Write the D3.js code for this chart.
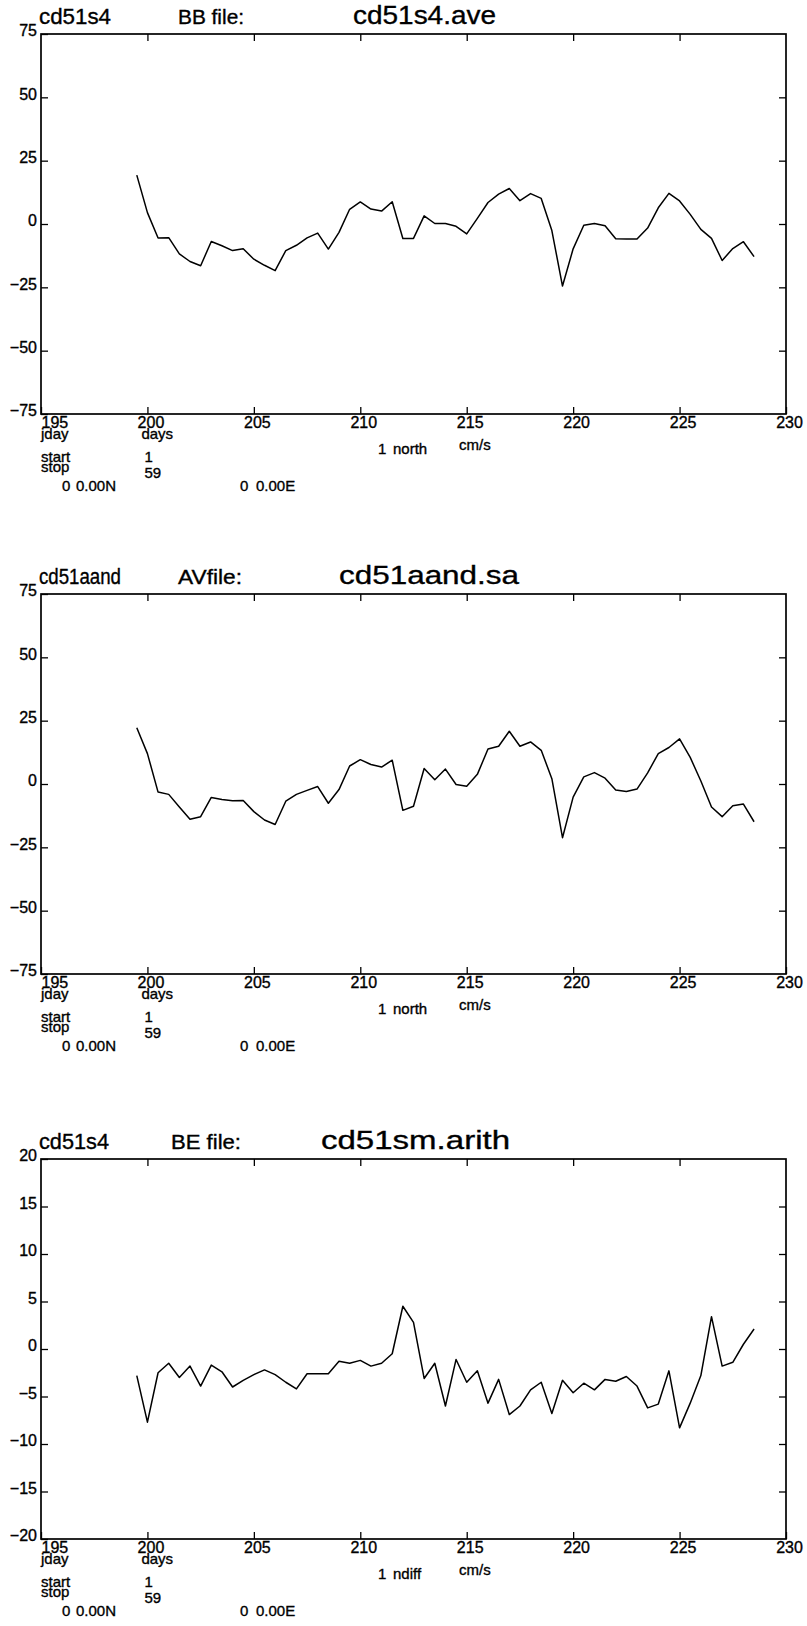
<!DOCTYPE html>
<html>
<head>
<meta charset="utf-8">
<script src="https://cdn.jsdelivr.net/npm/d3@7"></script>
<style>
  body { margin: 0; background: #fff; }
  text { font-family: "Liberation Sans", Arial, sans-serif; fill: #000; stroke: #000; stroke-width: 0.35px; }
</style>
</head>
<body>
<div id="chart"></div>
<script>
// time axis: 59 records, start 1 stop 59
const days = [199.5, 200.0, 200.5, 201.0, 201.5, 202.0, 202.5, 203.0, 203.5, 204.0,
  204.5, 205.0, 205.5, 206.0, 206.5, 207.0, 207.5, 208.0, 208.5, 209.0,
  209.5, 210.0, 210.5, 211.0, 211.5, 212.0, 212.5, 213.0, 213.5, 214.0,
  214.5, 215.0, 215.5, 216.0, 216.5, 217.0, 217.5, 218.0, 218.5, 219.0,
  219.5, 220.0, 220.5, 221.0, 221.5, 222.0, 222.5, 223.0, 223.5, 224.0,
  224.5, 225.0, 225.5, 226.0, 226.5, 227.0, 227.5, 228.0, 228.5];

// BB file cd51s4.ave, north (cm/s)
const northBB = [19.3, 4.5, -5.5, -5.4, -11.8, -14.8, -16.5, -6.9, -8.6, -10.5,
  -9.8, -13.9, -16.3, -18.4, -10.5, -8.4, -5.5, -3.6, -9.9, -3.3,
  5.8, 8.7, 5.9, 5.1, 8.8, -5.7, -5.7, 3.2, 0.2, 0.2,
  -0.9, -3.9, 2.2, 8.5, 11.8, 14.0, 9.2, 12.0, 10.1, -2.6,
  -24.5, -9.8, -0.5, 0.2, -0.7, -5.8, -5.9, -5.9, -1.6, 6.4,
  12.1, 9.1, 3.8, -2.1, -5.7, -14.4, -9.7, -7.0, -12.9];

// AV file cd51aand.sa, north (cm/s)
const northAV = [22.2, 12.0, -3.2, -4.1, -9.1, -13.9, -12.9, -5.3, -6.1, -6.6,
  -6.5, -10.9, -14.2, -16.0, -6.8, -4.1, -2.5, -1.0, -7.6, -2.2,
  7.1, 9.6, 7.7, 6.7, 9.4, -10.4, -8.8, 6.1, 1.7, 5.9,
  -0.2, -0.9, 3.8, 13.8, 14.9, 20.8, 14.9, 16.6, 13.3, 2.1,
  -21.2, -5.2, 2.8, 4.5, 2.3, -2.4, -3.0, -2.0, 4.4, 12.0,
  14.4, 17.8, 10.5, 1.2, -9.1, -12.9, -8.6, -7.9, -14.9];

// BE file cd51sm.arith, ndiff (cm/s)
const ndiffBE = [-2.8, -7.7, -2.5, -1.5, -3.0, -1.8, -3.9, -1.7, -2.4, -4.0,
  -3.3, -2.7, -2.2, -2.7, -3.5, -4.2, -2.6, -2.6, -2.6, -1.3,
  -1.5, -1.2, -1.8, -1.5, -0.5, 4.5, 2.8, -3.1, -1.5, -6.0,
  -1.1, -3.5, -2.3, -5.7, -3.2, -6.9, -6.0, -4.3, -3.5, -6.8,
  -3.3, -4.6, -3.6, -4.3, -3.2, -3.4, -2.9, -3.9, -6.2, -5.8,
  -2.3, -8.3, -5.7, -2.8, 3.4, -1.8, -1.4, 0.5, 2.1];

const dayTicks = [195, 200, 205, 210, 215, 220, 225, 230];
const ticks75 = [-75, -50, -25, 0, 25, 50, 75];
const ticks20 = [-20, -15, -10, -5, 0, 5, 10, 15, 20];

const stations = ["cd51s4", "cd51aand", "cd51s4"];
const fileKinds = ["BB file:", "AVfile:", "BE file:"];
const fileNames = ["cd51s4.ave", "cd51aand.sa", "cd51sm.arith"];
const varNames = ["north", "north", "ndiff"];
const series = [northBB, northAV, ndiffBE];
const yTicks = [ticks75, ticks75, ticks20];

const width = 807;
const height = 1626;
const left = 41, right = 786;
const panelH = 380;
const panelTops = [34, 594, 1159];
// header text boxes: [x, width]
const stationBox = [[39, 72], [39, 82], [39, 70]];
const kindBox = [[178, 66], [178, 64], [171, 70]];
const nameBox = [[353, 143], [339, 180], [321, 189]];

const svg = d3.select("#chart").append("svg")
  .attr("width", width)
  .attr("height", height)
  .attr("viewBox", [0, 0, width, height]);

const x = d3.scaleLinear().domain([195, 230]).range([left, right]);
const fmt = d3.format("");

series.forEach((values, i) => {
  const top = panelTops[i];
  const bottom = top + panelH;
  const yt = yTicks[i];
  const y = d3.scaleLinear().domain(d3.extent(yt)).range([bottom, top]);
  const g = svg.append("g");

  // y axis left, ticks inward, labels outside
  g.append("g")
    .attr("transform", `translate(${left},0)`)
    .call(d3.axisLeft(y).tickValues(yt).tickSize(-7).tickPadding(4).tickFormat(fmt))
    .call(a => a.select(".domain").remove())
    .call(a => a.selectAll("text").attr("dy", "0.12em").style("font-size", "16px").style("font-family", null));

  g.append("g")
    .attr("transform", `translate(${right},0)`)
    .call(d3.axisRight(y).tickValues(yt.slice(1, -1)).tickSize(-7).tickFormat(""))
    .call(a => a.select(".domain").remove());

  g.append("g")
    .attr("transform", `translate(0,${top})`)
    .call(d3.axisTop(x).tickValues(dayTicks.slice(1, -1)).tickSize(-7).tickFormat(""))
    .call(a => a.select(".domain").remove());

  g.append("g")
    .attr("transform", `translate(0,${bottom})`)
    .call(d3.axisBottom(x).tickValues(dayTicks).tickSize(-7).tickPadding(2).tickFormat(fmt))
    .call(a => a.select(".domain").remove())
    .call(a => a.selectAll("text")
      .attr("dx", 3)
      .attr("dy", "0.72em")
      .style("font-size", "16px")
      .style("font-family", null)
      .filter(d => d === 195).attr("text-anchor", "start").attr("dx", 0));

  g.selectAll(".tick line").attr("stroke", "#000").attr("stroke-width", 1.3);

  // frame
  g.append("rect")
    .attr("x", left).attr("y", top)
    .attr("width", right - left).attr("height", bottom - top)
    .attr("fill", "none").attr("stroke", "#000").attr("stroke-width", 1.7);

  // data line
  const line = d3.line()
    .x((d, k) => x(days[k]))
    .y(d => y(d));
  g.append("path")
    .datum(values)
    .attr("fill", "none")
    .attr("stroke", "#000")
    .attr("stroke-width", 1.5)
    .attr("stroke-linejoin", "round")
    .attr("d", line);

  // header
  const head = (box, size, s) => g.append("text")
    .attr("x", box[0]).attr("y", top - 10)
    .attr("textLength", box[1]).attr("lengthAdjust", "spacingAndGlyphs")
    .style("font-size", size + "px").text(s);
  head(stationBox[i], 22, stations[i]);
  head(kindBox[i], 20, fileKinds[i]);
  head(nameBox[i], 26, fileNames[i]);

  // footer
  const small = (tx, ty, s) => g.append("text")
    .attr("x", tx).attr("y", bottom + ty)
    .style("font-size", "15px").text(s);
  small(left, 25, "jday");
  small(x(200) - 6, 25, "days");
  small(378, 40, "1");
  small(393, 40, varNames[i]);
  small(459, 36, "cm/s");
  small(left, 48, "start");
  small(x(200) - 3, 48, "1");
  small(left, 58, "stop");
  small(x(200) - 3, 64, "59");
  small(62, 77, "0");
  small(76, 77, "0.00N");
  small(240, 77, "0");
  small(256, 77, "0.00E");
});
</script>
</body>
</html>
